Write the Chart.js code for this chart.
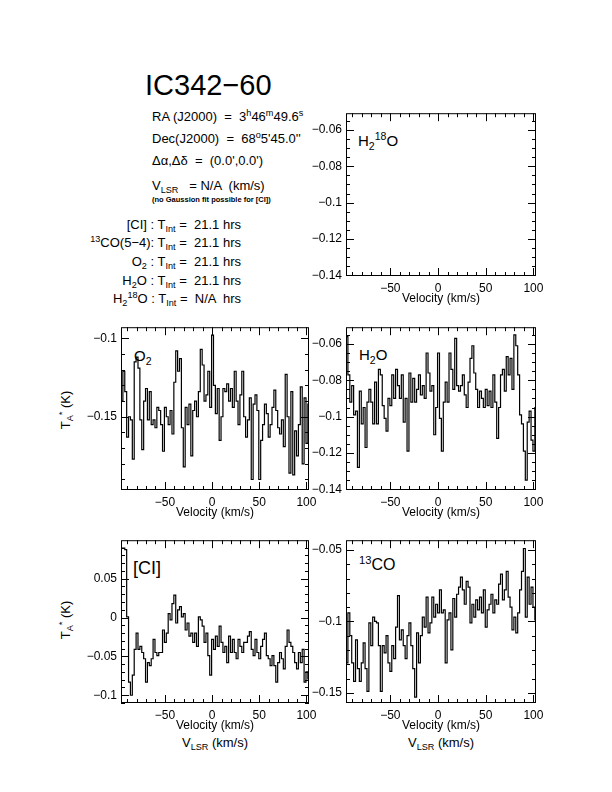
<!DOCTYPE html>
<html>
<head>
<meta charset="utf-8">
<script src="https://cdn.jsdelivr.net/npm/chart.js@4.4.1/dist/chart.umd.min.js"></script>
<style>
body{margin:0;width:612px;height:792px;background:#fff;position:relative;overflow:hidden;
 font-family:"Liberation Sans",Arial,sans-serif;color:#000}
canvas{position:absolute}
.t{position:absolute;white-space:nowrap;line-height:1}
.sup{font-size:70%;position:relative;top:-0.55em}
.sub{font-size:70%;position:relative;top:0.35em}
.rot{transform:translate(-50%,-50%) rotate(-90deg)}
</style>
</head>
<body>

<div class="t" style="left:145px;top:71px;font-size:29px">IC342&minus;60</div>

<div class="t" style="left:152px;top:110px;font-size:13px">RA (J2000) &nbsp;= &nbsp;3<span class="sup">h</span>46<span class="sup">m</span>49.6<span class="sup">s</span></div>
<div class="t" style="left:152px;top:132px;font-size:13px">Dec(J2000) &nbsp;= &nbsp;68<span class="sup">o</span>5'45.0''</div>
<div class="t" style="left:152px;top:154px;font-size:13px">&Delta;&alpha;,&Delta;&delta; &nbsp;= &nbsp;(0.0',0.0')</div>
<div class="t" style="left:152px;top:179px;font-size:13px">V<span class="sub">LSR</span> &nbsp;&nbsp;= N/A &nbsp;(km/s)</div>
<div class="t" style="left:152px;top:196px;font-size:7.5px;font-weight:bold">(no Gaussion fit possible for [CI])</div>

<div class="t" style="right:371px;top:218px;font-size:13px;text-align:right">[CI] : T<span class="sub">Int</span> = &nbsp;21.1 hrs</div>
<div class="t" style="right:371px;top:236px;font-size:13px;text-align:right"><span class="sup">13</span>CO(5&minus;4): T<span class="sub">Int</span> = &nbsp;21.1 hrs</div>
<div class="t" style="right:371px;top:255px;font-size:13px;text-align:right">O<span class="sub">2</span> : T<span class="sub">Int</span> = &nbsp;21.1 hrs</div>
<div class="t" style="right:371px;top:274px;font-size:13px;text-align:right">H<span class="sub">2</span>O : T<span class="sub">Int</span> = &nbsp;21.1 hrs</div>
<div class="t" style="right:371px;top:292px;font-size:13px;text-align:right">H<span class="sub">2</span><span class="sup">18</span>O : T<span class="sub">Int</span> = &nbsp;N/A &nbsp;hrs</div>

<div class="t" style="left:358px;top:133px;font-size:15px">H<span class="sub">2</span><span class="sup">18</span>O</div>
<div class="t" style="left:134px;top:348px;font-size:15px">O<span class="sub">2</span></div>
<div class="t" style="left:359px;top:347px;font-size:15px">H<span class="sub">2</span>O</div>
<div class="t" style="left:133px;top:559px;font-size:18px">[CI]</div>
<div class="t" style="left:359px;top:557px;font-size:16px"><span class="sup">13</span>CO</div>

<div class="t rot" style="left:66px;top:410px;font-size:13px">T<span class="sub">A</span><span class="sup">*</span> (K)</div>
<div class="t rot" style="left:66px;top:620px;font-size:13px">T<span class="sub">A</span><span class="sup">*</span> (K)</div>

<div class="t" style="left:215px;top:736px;font-size:13px;transform:translateX(-50%)">V<span class="sub">LSR</span> (km/s)</div>
<div class="t" style="left:441px;top:736px;font-size:13px;transform:translateX(-50%)">V<span class="sub">LSR</span> (km/s)</div>

<canvas id="c_h218o"></canvas>
<canvas id="c_o2"></canvas>
<canvas id="c_h2o"></canvas>
<canvas id="c_ci"></canvas>
<canvas id="c_co"></canvas>

<script>
// channel velocities (km/s)
const velocity=[-95.5,-93.5,-91.5,-89.5,-87.5,-85.5,-83.5,-81.5,-79.5,-77.5,
 -75.5,-73.5,-71.5,-69.5,-67.5,-65.5,-63.5,-61.5,-59.5,-57.5,
 -55.5,-53.5,-51.5,-49.5,-47.5,-45.5,-43.5,-41.5,-39.5,-37.5,
 -35.5,-33.5,-31.5,-29.5,-27.5,-25.5,-23.5,-21.5,-19.5,-17.5,
 -15.5,-13.5,-11.5,-9.5,-7.5,-5.5,-3.5,-1.5,0.5,2.5,
 4.5,6.5,8.5,10.5,12.5,14.5,16.5,18.5,20.5,22.5,
 24.5,26.5,28.5,30.5,32.5,34.5,36.5,38.5,40.5,42.5,
 44.5,46.5,48.5,50.5,52.5,54.5,56.5,58.5,60.5,62.5,
 64.5,66.5,68.5,70.5,72.5,74.5,76.5,78.5,80.5,82.5,
 84.5,86.5,88.5,90.5,92.5,94.5,96.5,98.5,100.5,102.5];

const o2=[-0.140,-0.121,-0.134,-0.163,-0.150,-0.152,-0.177,-0.115,-0.112,-0.119,
 -0.152,-0.171,-0.140,-0.132,-0.152,-0.134,-0.155,-0.152,-0.157,-0.144,
 -0.146,-0.155,-0.172,-0.144,-0.150,-0.155,-0.146,-0.161,-0.128,-0.108,
 -0.121,-0.113,-0.157,-0.182,-0.144,-0.155,-0.142,-0.175,-0.146,-0.140,
 -0.150,-0.134,-0.107,-0.117,-0.140,-0.136,-0.121,-0.144,-0.098,-0.130,
 -0.148,-0.132,-0.165,-0.150,-0.132,-0.134,-0.129,-0.140,-0.132,-0.144,
 -0.121,-0.140,-0.155,-0.136,-0.121,-0.150,-0.163,-0.152,-0.138,-0.190,
 -0.142,-0.136,-0.146,-0.190,-0.165,-0.155,-0.142,-0.148,-0.163,-0.155,
 -0.144,-0.133,-0.146,-0.157,-0.161,-0.152,-0.169,-0.123,-0.150,-0.186,
 -0.134,-0.187,-0.159,-0.175,-0.155,-0.131,-0.180,-0.138,-0.167,-0.142];

const h2o=[-0.056,-0.077,-0.092,-0.083,-0.099,-0.097,-0.128,-0.086,-0.104,-0.095,
 -0.117,-0.092,-0.085,-0.092,-0.104,-0.081,-0.104,-0.074,-0.077,-0.094,
 -0.101,-0.108,-0.090,-0.094,-0.077,-0.090,-0.074,-0.083,-0.090,-0.077,
 -0.103,-0.090,-0.119,-0.076,-0.092,-0.079,-0.092,-0.085,-0.077,-0.088,
 -0.083,-0.090,-0.065,-0.076,-0.086,-0.083,-0.110,-0.095,-0.065,-0.101,
 -0.119,-0.092,-0.081,-0.092,-0.065,-0.074,-0.085,-0.057,-0.083,-0.086,
 -0.083,-0.077,-0.088,-0.095,-0.081,-0.068,-0.061,-0.076,-0.085,-0.095,
 -0.086,-0.090,-0.095,-0.085,-0.094,-0.086,-0.095,-0.077,-0.092,-0.112,
 -0.095,-0.077,-0.074,-0.086,-0.067,-0.077,-0.068,-0.085,-0.055,-0.061,
 -0.077,-0.099,-0.104,-0.119,-0.135,-0.103,-0.097,-0.113,-0.119,-0.095];

const ci=[0.0895,0.0895,0.0874,0.001,-0.083,-0.100,-0.074,-0.041,-0.020,-0.041,
 -0.037,-0.045,-0.053,-0.083,-0.058,-0.062,-0.053,-0.028,-0.045,-0.049,
 -0.045,-0.045,-0.016,-0.032,-0.020,0.005,-0.003,0.018,0.029,-0.007,
 0.010,0.014,0.001,0.005,-0.016,-0.007,-0.024,-0.020,-0.032,-0.020,
 -0.037,0.001,-0.003,-0.011,-0.032,-0.020,-0.049,-0.074,-0.028,-0.041,
 -0.024,-0.037,-0.011,-0.032,-0.045,-0.037,-0.058,-0.024,-0.045,-0.028,
 -0.045,-0.053,-0.028,-0.037,-0.045,-0.032,-0.032,-0.024,-0.018,-0.041,
 -0.049,-0.028,-0.045,-0.053,-0.037,-0.028,-0.020,-0.049,-0.053,-0.062,
 -0.049,-0.062,-0.083,-0.058,-0.045,-0.053,-0.066,-0.037,-0.016,-0.032,
 -0.037,-0.045,-0.058,-0.066,-0.045,-0.058,-0.041,-0.083,-0.070,-0.079];

const co13=[-0.129,-0.094,-0.110,-0.129,-0.142,-0.113,-0.133,-0.142,-0.129,-0.115,
 -0.133,-0.149,-0.101,-0.117,-0.097,-0.100,-0.101,-0.117,-0.149,-0.117,
 -0.122,-0.110,-0.129,-0.135,-0.117,-0.126,-0.104,-0.082,-0.113,-0.106,
 -0.117,-0.126,-0.110,-0.101,-0.117,-0.133,-0.153,-0.108,-0.129,-0.110,
 -0.097,-0.104,-0.083,-0.108,-0.101,-0.083,-0.097,-0.088,-0.094,-0.078,
 -0.094,-0.092,-0.129,-0.099,-0.094,-0.120,-0.084,-0.097,-0.081,-0.076,
 -0.069,-0.078,-0.088,-0.072,-0.076,-0.101,-0.088,-0.097,-0.085,-0.092,
 -0.083,-0.094,-0.078,-0.104,-0.092,-0.088,-0.081,-0.094,-0.085,-0.088,
 -0.074,-0.067,-0.085,-0.078,-0.065,-0.083,-0.090,-0.106,-0.097,-0.108,
 -0.094,-0.078,-0.065,-0.049,-0.097,-0.069,-0.088,-0.076,-0.090,-0.099];

const xTicks=[-50,0,50,100];

const FONT='"Liberation Sans", Arial, sans-serif';
const YW=60, XH=32, PT=8, PR=14;

const panels=[
 {id:'c_h218o', left:346, top:110, w:190, h:166, ymin:-0.1404, ymax:-0.0508, major:0.02, minor:0.005, data:null},
 {id:'c_o2',    left:121, top:324, w:188, h:166, ymin:-0.1967, ymax:-0.0929, major:0.05, minor:0.01, data:o2},
 {id:'c_h2o',   left:346, top:324, w:190, h:166, ymin:-0.1404, ymax:-0.0508, major:0.02, minor:0.005, data:h2o},
 {id:'c_ci',    left:121, top:537, w:188, h:166, ymin:-0.1100, ymax:0.0996, major:0.05, minor:0.01, data:ci},
 {id:'c_co',    left:346, top:537, w:190, h:166, ymin:-0.1571, ymax:-0.0432, major:0.05, minor:0.01, data:co13}
];

function fmt(v){
 let s=String(Math.round(v*1000)/1000);
 return s.replace('-','\u2212');
}

// PGPLOT-like box: frame plus inward ticks on all four sides
const frame={
 id:'frame',
 afterDraw(chart,args,o){
  const {ctx,chartArea:a,scales:{x,y}}=chart;
  ctx.save();
  ctx.strokeStyle='#000';
  ctx.lineWidth=1;
  ctx.strokeRect(a.left+0.5,a.top+0.5,a.right-a.left-1,a.bottom-a.top-1);
  ctx.beginPath();
  for(let k=Math.ceil(x.min/10-1e-6);k*10<=x.max+1e-9;k++){
   const v=k*10, big=(k%5===0), L=big?8:4;
   const px=Math.round(x.getPixelForValue(v))+0.5;
   ctx.moveTo(px,a.bottom);ctx.lineTo(px,a.bottom-L);
   ctx.moveTo(px,a.top);ctx.lineTo(px,a.top+L);
  }
  for(let k=Math.ceil(y.min/o.minor-1e-6);k*o.minor<=y.max+1e-9;k++){
   const v=k*o.minor, r=v/o.major, big=Math.abs(r-Math.round(r))<1e-6, L=big?8:4;
   const py=Math.round(y.getPixelForValue(v))+0.5;
   ctx.moveTo(a.left,py);ctx.lineTo(a.left+L,py);
   ctx.moveTo(a.right,py);ctx.lineTo(a.right-L,py);
  }
  ctx.stroke();
  ctx.restore();
 }
};

panels.forEach(p=>{
 const cv=document.getElementById(p.id);
 cv.width=p.w+YW+PR; cv.height=p.h+PT+XH;
 cv.style.left=(p.left-YW)+'px'; cv.style.top=(p.top-PT)+'px';
 cv.style.width=cv.width+'px'; cv.style.height=cv.height+'px';
 const pts=p.data?velocity.map((v,i)=>({x:v,y:p.data[i]})):[];
 new Chart(cv,{
  type:'line',
  data:{datasets:[{data:pts,borderColor:'#000',borderWidth:1.2,pointRadius:0,stepped:'middle',fill:false}]},
  options:{
   animation:false,responsive:false,devicePixelRatio:1,
   layout:{padding:{top:PT,right:PR,left:0,bottom:0}},
   plugins:{legend:{display:false},tooltip:{enabled:false},frame:{major:p.major,minor:p.minor}},
   scales:{
    x:{type:'linear',min:-96.5,max:102.7,
     afterFit:s=>{s.height=XH},
     afterBuildTicks:s=>{s.ticks=xTicks.map(v=>({value:v}))},
     grid:{display:false,drawTicks:false},border:{display:false},
     ticks:{autoSkip:false,maxRotation:0,padding:5,color:'#000',font:{family:FONT,size:12},callback:fmt},
     title:{display:true,text:'Velocity (km/s)',color:'#000',font:{family:FONT,size:12},padding:{top:0,bottom:2}}},
    y:{type:'linear',min:p.ymin,max:p.ymax,
     afterFit:s=>{s.width=YW},
     grid:{display:false,drawTicks:false},border:{display:false},
     ticks:{stepSize:p.major,includeBounds:false,autoSkip:false,padding:4,color:'#000',font:{family:FONT,size:12},callback:fmt}}
   }
  },
  plugins:[frame]
 });
});
</script>
</body>
</html>
